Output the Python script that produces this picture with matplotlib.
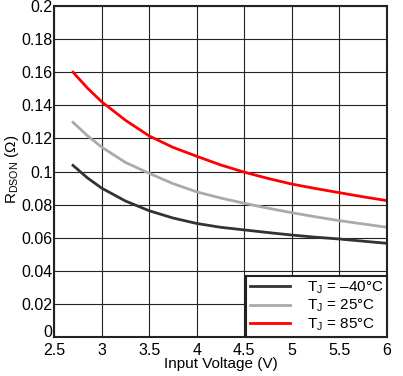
import matplotlib
matplotlib.use('Agg')
import matplotlib.pyplot as plt

plt.rcParams['font.family'] = ['Liberation Sans', 'DejaVu Sans']
plt.rcParams['mathtext.fontset'] = 'custom'
plt.rcParams['mathtext.rm'] = 'Liberation Sans'
plt.rcParams['mathtext.it'] = 'Liberation Sans'

# Input voltage (V)
vin = [2.7, 2.85, 3.0, 3.25, 3.5, 3.75, 4.0, 4.25, 4.5, 4.75, 5.0, 5.25, 5.5, 5.75, 6.0]

# RDSON (ohm) per junction temperature
r_m40 = [0.1037, 0.0962, 0.0900, 0.0822, 0.0763, 0.0719, 0.0686, 0.0663, 0.0647,
         0.0631, 0.0616, 0.0603, 0.0592, 0.0579, 0.0566]
r_25 = [0.1297, 0.1217, 0.1148, 0.1055, 0.0989, 0.0927, 0.0877, 0.0840, 0.0808,
        0.0778, 0.0751, 0.0726, 0.0703, 0.0683, 0.0663]
r_85 = [0.160, 0.1505, 0.1422, 0.1310, 0.1215, 0.1146, 0.1092, 0.1040, 0.0996,
        0.0958, 0.0924, 0.0897, 0.0872, 0.0847, 0.0824]

labels = ['T$_\\mathrm{J}$ = \u201340\u00b0C', 'T$_\\mathrm{J}$ = 25\u00b0C', 'T$_\\mathrm{J}$ = 85\u00b0C']
colors = ['#333333', '#aaaaaa', '#ff0000']

fig = plt.figure(figsize=(4.03, 3.76), dpi=100)
ax = fig.add_axes([54 / 403, 1 - 337 / 376, 333 / 403, 331 / 376])

for y, lab, c in zip([r_m40, r_25, r_85], labels, colors):
    ax.plot(vin, y, color=c, lw=2, label=lab, solid_joinstyle='round')

ax.set_xlim(2.5, 6)
ax.set_ylim(0, 0.2)
ax.set_xticks([2.5, 3, 3.5, 4, 4.5, 5, 5.5, 6])
ax.set_xticklabels(['2.5', '3', '3.5', '4', '4.5', '5', '5.5', '6'])
ax.set_yticks([0, 0.02, 0.04, 0.06, 0.08, 0.1, 0.12, 0.14, 0.16, 0.18, 0.2])
ax.set_yticklabels(['0', '0.02', '0.04', '0.06', '0.08', '0.1', '0.12', '0.14', '0.16', '0.18', '0.2'])
ax.tick_params(length=0, labelsize=11.5)
ax.tick_params(axis='x', pad=4.5)
ax.tick_params(axis='y', pad=1)
# the "0" label sits on the axis line rather than centred on it
ax.get_yticklabels()[0].set_verticalalignment('baseline')
ax.grid(True, color='#222222', lw=0.8)
ax.set_axisbelow(True)
for s in ax.spines.values():
    s.set_linewidth(1.5)
    s.set_color('#222222')

ax.set_xlabel('Input Voltage (V)', fontsize=11, labelpad=-1)
ax.set_ylabel('R$_\\mathrm{DSON}$ (\u03a9)', fontsize=11)
ax.yaxis.set_label_coords(-0.098, 0.505)

leg = ax.legend(loc='lower right', bbox_to_anchor=(1.0, 0.0), borderaxespad=0,
                fontsize=11, frameon=True, fancybox=False, framealpha=1,
                edgecolor='#222222', handlelength=2.6, handletextpad=1.1,
                borderpad=0.25, labelspacing=0.15)
leg.get_frame().set_linewidth(1.5)

fig.savefig('out.png', dpi=100)
